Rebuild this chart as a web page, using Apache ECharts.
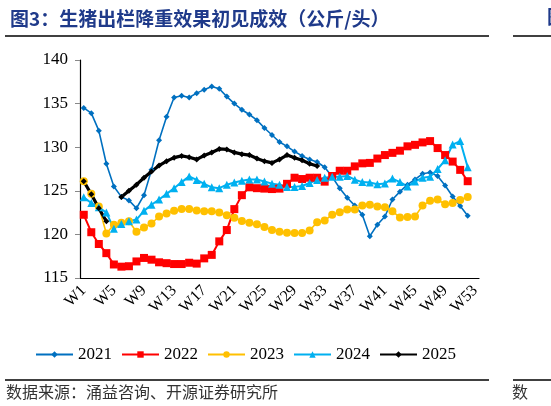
<!DOCTYPE html>
<html>
<head>
<meta charset="utf-8">
<script src="https://cdn.jsdelivr.net/npm/echarts@6/dist/echarts.min.js"></script>
<style>
  html, body { margin: 0; padding: 0; background: #fff; }
  #chart { width: 551px; height: 406px; }
</style>
</head>
<body>
<div id="chart"></div>
<script>
// weeks W1..W53
const weeks = [];
for (let i = 1; i <= 53; i++) weeks.push('W' + i);

// average slaughter weight, kg per head
const y2021 = [134.5, 133.9, 131.9, 128.1, 125.5, 124.3, 123.9, 123.0, 124.5, 127.4,
  130.8, 133.5, 135.7, 135.9, 135.7, 136.2, 136.6, 136.95, 136.7, 135.8,
  135.0, 134.3, 133.75, 133.1, 132.2, 131.4, 130.6, 130.1, 129.5, 129.0,
  128.6, 128.3, 127.7, 126.6, 125.3, 124.2, 123.3, 122.25, 119.8, 121.1,
  122.05, 124.0, 124.9, 125.7, 126.3, 126.95, 127.1, 126.7, 125.6, 124.35,
  123.25, 122.15, null];
const y2022 = [122.25, 120.25, 118.9, 117.85, 116.55, 116.3, 116.35, 116.9, 117.3, 117.1,
  116.8, 116.7, 116.6, 116.6, 116.75, 116.65, 117.25, 117.65, 119.2, 120.5,
  122.9, 124.5, 125.4, 125.3, 125.25, 125.2, 125.25, 125.8, 126.5, 126.35,
  126.5, 126.5, 126.05, 126.7, 127.3, 127.3, 127.8, 128.15, 128.2, 128.7,
  129.1, 129.35, 129.6, 130.1, 130.27, 130.55, 130.7, 129.9, 129.1, 128.35,
  127.4, 126.1, null];
const y2023 = [126.1, 124.65, 123.2, 120.1, 121.1, 121.35, 121.5, 120.3, 120.8, 121.25,
  122.05, 122.4, 122.7, 122.9, 122.9, 122.75, 122.65, 122.65, 122.5, 122.2,
  121.9, 121.55, 121.35, 121.15, 120.85, 120.5, 120.3, 120.2, 120.15, 120.15,
  120.45, 121.4, 121.6, 122.25, 122.55, 122.85, 122.85, 123.3, 123.4, 123.2,
  123.1, 122.65, 121.95, 122.0, 122.05, 123.3, 123.85, 124.0, 123.45, 123.6,
  123.95, 124.3, null];
const y2024 = [124.25, 123.6, 123.1, 122.5, 120.65, 121.2, 121.5, 121.7, 122.7, 123.4,
  124.0, 124.65, 125.3, 126.0, 126.65, 126.25, 125.8, 125.4, 125.3, 125.7,
  125.95, 126.15, 126.3, 126.3, 126.06, 125.82, 125.7, 125.45, 125.45, 125.55,
  125.9, 126.25, 126.5, 126.6, 126.6, 126.7, 126.27, 126.0, 125.95, 125.75,
  125.85, 126.4, 126.0, 125.5, 126.06, 126.5, 126.6, 127.5, 128.5, 130.3,
  130.7, 127.7, null];
const y2025 = [126.1, 124.6, 123.0, 121.5, null, 124.3, 125.0, 125.7, 126.5, 127.2,
  127.9, 128.4, 128.8, 129.0, 128.85, 128.6, 129.05, 129.4, 129.8, 129.75,
  129.4, 129.2, 129.1, 128.7, 128.4, 128.2, 128.6, 129.1, 128.8, 128.5,
  128.1, 127.85];

const yTicks = { min: 115, max: 140, interval: 5 };

const serif = '"Liberation Serif", "Times New Roman", serif';
const cjk = '"Noto Sans CJK SC", sans-serif';

function lineSeries(name, data, color, symbol, size, width) {
  return {
    name: name,
    type: 'line',
    data: data,
    symbol: symbol,
    symbolSize: size,
    showAllSymbol: true,
    connectNulls: false,
    lineStyle: { color: color, width: width },
    itemStyle: { color: color, borderWidth: 0 },
    emphasis: { disabled: true },
    animation: false
  };
}

const myChart = echarts.init(document.getElementById('chart'));

const option = {
  backgroundColor: '#fff',
  animation: false,
  title: {
    text: '图3：生猪出栏降重效果初见成效（公斤/头）',
    left: 5,
    top: 4,
    textStyle: { color: '#1F3A8A', fontSize: 19, fontWeight: 'bold', fontFamily: cjk }
  },
  legend: {
    left: 30,
    top: 341,
    itemWidth: 37,
    itemHeight: 8,
    itemGap: 9,
    textStyle: { fontFamily: serif, fontSize: 17, color: '#000' },
    data: ['2021', '2022', '2023', '2024', '2025']
  },
  grid: { left: 80, right: 72, top: 60, bottom: 128 },
  xAxis: {
    type: 'category',
    data: weeks,
    boundaryGap: true,
    axisLine: { lineStyle: { color: '#000', width: 1.2 } },
    axisTick: { interval: 3, length: 5, lineStyle: { color: '#888' } },
    axisLabel: {
      interval: 3,
      rotate: 45,
      margin: 10,
      fontFamily: serif,
      fontSize: 16,
      color: '#000'
    },
    splitLine: { show: false }
  },
  yAxis: {
    type: 'value',
    min: yTicks.min,
    max: yTicks.max,
    interval: yTicks.interval,
    axisLine: { show: true, lineStyle: { color: '#000', width: 1.2 } },
    axisTick: { show: true, length: 5, lineStyle: { color: '#888' } },
    axisLabel: { margin: 12, fontFamily: serif, fontSize: 17, color: '#000' },
    splitLine: { show: false }
  },
  series: [
    lineSeries('2021', y2021, '#0070C0', 'diamond', 6, 1.6),
    lineSeries('2022', y2022, '#FF0000', 'rect', 8, 2),
    lineSeries('2023', y2023, '#FFC000', 'circle', 8, 1.6),
    lineSeries('2024', y2024, '#00B0F0', 'triangle', 8, 2),
    lineSeries('2025', y2025, '#000000', 'diamond', 6, 3.2)
  ],
  graphic: [
    { type: 'line', shape: { x1: 5, y1: 36, x2: 489, y2: 36 }, style: { stroke: '#000', lineWidth: 1.3 } },
    { type: 'line', shape: { x1: 513, y1: 36, x2: 551, y2: 36 }, style: { stroke: '#000', lineWidth: 1.3 } },
    { type: 'text', left: 547, top: 7, style: { text: '图', fill: '#1F3A8A', font: 'bold 19px "Noto Sans CJK SC"' } },
    { type: 'line', shape: { x1: 5, y1: 380, x2: 489, y2: 380 }, style: { stroke: '#000', lineWidth: 1.3 } },
    { type: 'line', shape: { x1: 513, y1: 380, x2: 551, y2: 380 }, style: { stroke: '#000', lineWidth: 1.3 } },
    {
      type: 'text', left: 6, top: 384,
      style: { text: '数据来源：涌益咨询、开源证券研究所', fill: '#333', font: '16px "Noto Sans CJK SC"' }
    },
    { type: 'text', left: 512, top: 384, style: { text: '数', fill: '#333', font: '16px "Noto Sans CJK SC"' } }
  ]
};

myChart.setOption(option);
window.addEventListener('resize', () => myChart.resize());
</script>
</body>
</html>
